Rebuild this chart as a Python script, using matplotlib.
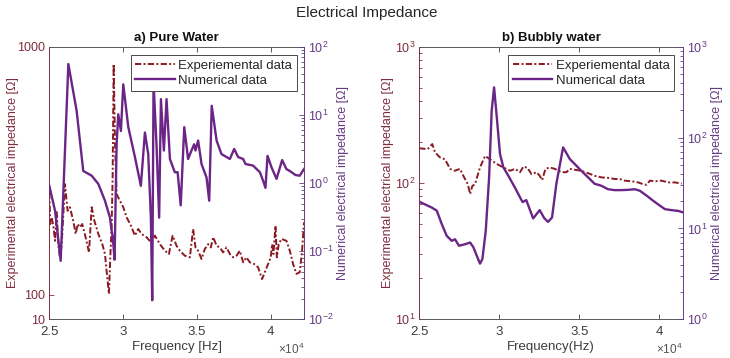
import matplotlib
matplotlib.use('Agg')
import matplotlib.pyplot as plt
from matplotlib.ticker import LogLocator, FixedLocator, NullFormatter, FixedFormatter

plt.rcParams['font.family'] = ['Liberation Sans', 'DejaVu Sans']
plt.rcParams['mathtext.fontset'] = 'custom'
plt.rcParams['mathtext.rm'] = 'Liberation Sans'
plt.rcParams['mathtext.it'] = 'Liberation Sans:italic'
plt.rcParams['mathtext.bf'] = 'Liberation Sans:bold'

# ---------------- data ----------------
# a) Pure water - experimental (left axis, linear)
pw_exp_f = [25000, 25070, 25160, 25270, 25390, 25500, 25610, 25720, 25840, 26060, 26240, 26400,
            26620, 26790, 26920, 27080, 27230, 27460, 27690, 27870, 28050, 28320, 28590, 28770,
            28900, 29040, 29130, 29220, 29290, 29360, 29450, 29560, 29720, 30010, 30240, 30530,
            30800, 31020, 31250, 31590, 31880, 32150, 32490, 32830, 33100, 33350, 33620, 33840,
            34180, 34520, 34740, 34900, 35080, 35310, 35530, 35760, 35940, 36100, 36330, 36550,
            36770, 37000, 37230, 37450, 37680, 37900, 38130, 38350, 38580, 38870, 39140, 39410,
            39640, 39820, 40000, 40090, 40180, 40320, 40410, 40540, 40720, 41060, 41290, 41510,
            41740, 41960, 42120, 42250]
pw_exp_v = [469, 356, 380, 350, 295, 399, 283, 235, 283, 501, 404, 417,
            368, 320, 356, 344, 356, 308, 253, 417, 368, 320, 283, 247,
            175, 102, 235, 344, 526, 937, 647, 465, 447, 417, 380, 350,
            314, 338, 320, 308, 290, 314, 283, 259, 247, 314, 277, 259,
            241, 235, 338, 271, 259, 229, 265, 283, 271, 308, 277, 271,
            253, 271, 247, 235, 241, 259, 217, 235, 217, 211, 199, 156,
            187, 211, 235, 283, 247, 350, 235, 283, 302, 295, 259, 211,
            175, 181, 259, 362]

# a) Pure water - numerical (right axis, log)
pw_num_f = [25000, 25390, 25770, 26290, 26850, 27300, 27870, 28320, 28770, 29110, 29220, 29300,
            29420, 29560, 29670, 29850, 30010, 30350, 30800, 31200, 31475, 31700, 31880, 31970,
            32060, 32260, 32440, 32560, 32760, 32940, 33170, 33500, 33690, 33900, 34140, 34400,
            34630, 34810, 34900, 35080, 35310, 35650, 35830, 36000, 36330, 36660, 37230, 37520,
            37790, 38130, 38290, 38800, 39260, 39480, 39640, 39780, 40050, 40390, 40770, 41060,
            41290, 41670, 41960, 42250]
pw_num_v = [0.91, 0.39, 0.072, 55.7, 11.5, 1.5, 1.28, 0.97, 0.55, 0.31, 0.2, 0.16,
            0.075, 3.7, 10.2, 5.8, 28, 6.6, 2.4, 0.91, 5.5, 2.66, 0.31, 0.019,
            30, 3.7, 0.31, 17, 3.0, 17, 2.25, 1.44, 1.44, 0.47, 6.6, 2.25,
            3.0, 3.7, 3.0, 4.2, 1.9, 1.2, 0.55, 13.6, 4.2, 2.66, 2.25, 3.16,
            2.4, 2.25, 1.9, 1.8, 1.44, 1.08, 0.85, 2.5, 1.7, 1.15, 2.17, 1.6,
            1.5, 1.31, 1.28, 1.6]

# b) Bubbly water - experimental (left axis, log)
bw_exp_f = [25000, 25520, 25810, 25980, 26290, 26610, 26920, 27230, 27540, 27750, 28030, 28170,
            28310, 28480, 28790, 29110, 29420, 29840, 30250, 30670, 30980, 31290, 31500, 31760,
            32010, 32320, 32520, 32670, 32880, 33150, 33460, 33880, 34190, 34400, 34710, 35120,
            35540, 35950, 36370, 36790, 37200, 37520, 37830, 38250, 38670, 38980, 39190, 39400,
            39710, 40130, 40540, 40960, 41380]
bw_exp_v = [180, 177, 193, 168, 154, 149, 127, 123, 127, 113, 98, 83,
            95, 98, 130, 158, 149, 138, 130, 123, 127, 120, 132, 129,
            116, 120, 113, 105, 127, 130, 127, 120, 120, 127, 125, 123,
            118, 113, 110, 109, 107, 107, 104, 103, 101, 98, 97, 104,
            103, 104, 101, 101, 99]

# b) Bubbly water - numerical (right axis, log)
bw_num_f = [25000, 25770, 26090, 26400, 26710, 27030, 27230, 27480, 27860, 28170, 28380, 28590,
            28790, 28940, 29150, 29360, 29520, 29670, 29840, 30040, 30250, 30560, 30980, 31290,
            31450, 31680, 32110, 32520, 32800, 33040, 33290, 33560, 33980, 34400, 34810, 35120,
            35540, 35950, 36370, 36790, 37200, 37620, 38040, 38460, 38770, 39190, 39600, 40030,
            40340, 40750, 41170, 41480]
bw_num_v = [19.7, 17, 15.7, 11.2, 8.3, 7.3, 7.6, 6.45, 6.7, 7.0, 6.2, 5.0,
            4.1, 4.6, 9.4, 36.5, 197, 357, 167, 66, 47, 38, 28, 22,
            19.5, 20.5, 12.9, 15.9, 13, 11.8, 13.2, 31, 78, 58, 49, 43,
            36.5, 31, 29.5, 27, 26.4, 26.4, 26.6, 27, 26, 23, 20.2, 17.8,
            16.3, 15.9, 15.6, 15]

x_ticks = [25000, 30000, 35000, 40000]
x_tick_labels = ['2.5', '3', '3.5', '4']
legend_labels = ['Experiemental data', 'Numerical data']

# ---------------- style ----------------
RED = '#8a1a22'
PURPLE = '#6b2586'
LCOL = '#7f2d3f'
RCOL = '#673a82'
GRAY = '#3c3c3c'
FS = 9.5
TFS = 9
W, H = 730.0, 358.0

fig = plt.figure(figsize=(7.3, 3.58), dpi=100)
fig.text(366.5 / W, 1 - 13 / H, 'Electrical Impedance', ha='center', va='center',
         fontsize=11, color='#262626')


def make_panel(px0, px1, xmax, title, f_exp, v_exp, f_num, v_num,
               left_log, left_lim, right_lim, xlabel, leg_x1,
               llab_x, rlab_x):
    top, bot = 46.7, 319.3
    ax1 = fig.add_axes([px0 / W, 1 - bot / H, (px1 - px0) / W, (bot - top) / H])
    ax2 = ax1.twinx()
    l1, = ax1.plot(f_exp, v_exp, color=RED, lw=1.4, linestyle=(0, (3.2, 1.2, 1.0, 1.2)))
    l2, = ax2.plot(f_num, v_num, color=PURPLE, lw=1.7)

    ax1.set_xlim(25000, xmax)
    ax1.xaxis.set_major_locator(FixedLocator(x_ticks))
    ax1.xaxis.set_major_formatter(FixedFormatter(x_tick_labels))
    ax1.tick_params(axis='x', which='both', direction='in', top=True, bottom=True,
                    length=3.5, width=0.6, colors=GRAY, labelsize=FS, pad=5)
    ax2.tick_params(axis='x', which='both', top=False, bottom=False, labelbottom=False)

    if left_log:
        ax1.set_yscale('log')
        ax1.set_ylim(*left_lim)
        ax1.yaxis.set_minor_locator(LogLocator(base=10, subs=range(2, 10)))
        ax1.yaxis.set_minor_formatter(NullFormatter())
    else:
        ax1.set_ylim(*left_lim)
        ax1.yaxis.set_major_locator(FixedLocator([10, 100, 1000]))
        ax1.yaxis.set_major_formatter(FixedFormatter(['10', '100', '1000']))
    ax1.tick_params(axis='y', which='both', direction='in', colors=LCOL, labelsize=TFS,
                    width=0.6, pad=3)
    ax1.tick_params(axis='y', which='major', length=3.5)
    ax1.tick_params(axis='y', which='minor', length=2)

    ax2.set_yscale('log')
    ax2.set_ylim(*right_lim)
    ax2.yaxis.set_minor_locator(LogLocator(base=10, subs=range(2, 10)))
    ax2.yaxis.set_minor_formatter(NullFormatter())
    ax2.tick_params(axis='y', which='both', direction='in', colors=RCOL, labelsize=TFS,
                    width=0.6, pad=3)
    ax2.tick_params(axis='y', which='major', length=3.5)
    ax2.tick_params(axis='y', which='minor', length=2)

    for s in ['top', 'bottom']:
        ax1.spines[s].set_color('#5a5a5a')
        ax1.spines[s].set_linewidth(0.7)
        ax2.spines[s].set_visible(False)
    ax1.spines['left'].set_color(LCOL)
    ax1.spines['left'].set_linewidth(0.7)
    ax1.spines['right'].set_visible(False)
    ax2.spines['left'].set_visible(False)
    ax2.spines['right'].set_color(RCOL)
    ax2.spines['right'].set_linewidth(0.7)

    w = px1 - px0
    ax1.set_ylabel('Experimental electrical impedance [\u03a9]', fontsize=9, color=LCOL)
    ax1.yaxis.set_label_coords((llab_x + 6 - px0) / w, 0.5)
    ax2.set_ylabel('Numerical electrical impedance [\u03a9]', fontsize=9, color=RCOL)
    ax2.yaxis.set_label_coords((rlab_x - 6 - px0) / w, 0.5)
    ax1.set_xlabel(xlabel, fontsize=FS, color=GRAY)
    ax1.xaxis.set_label_coords(0.5, (bot - 341) / (bot - top))
    ax1.set_title(title, fontsize=FS, fontweight='bold', color='#111111', pad=4)
    ax1.text(1.0, (bot - 349) / (bot - top), '\u00d710$^{4}$', transform=ax1.transAxes,
             ha='right', va='center', fontsize=8.5, color='#555555')

    leg = ax2.legend([l1, l2], legend_labels, loc='upper right',
                     bbox_to_anchor=((leg_x1 - px0) / w, (bot - 55) / (bot - top)),
                     borderaxespad=0, fancybox=False, edgecolor='#4a4a4a', framealpha=1,
                     fontsize=FS, handlelength=3.0, handletextpad=0.25, borderpad=0.35,
                     labelspacing=0.2)
    leg.get_frame().set_linewidth(0.7)
    for t in leg.get_texts():
        t.set_color('#262626')
    return ax1, ax2


make_panel(49.3, 304.0, 42250, 'a) Pure Water', pw_exp_f, pw_exp_v, pw_num_f, pw_num_v,
           False, (10, 1000), (0.01, 100), 'Frequency [Hz]', 296.7, 13.3, 343.0)
make_panel(419.3, 682.7, 41450, 'b) Bubbly water', bw_exp_f, bw_exp_v, bw_num_f, bw_num_v,
           True, (10, 1000), (1, 1000), 'Frequency(Hz)', 674.0, 388.5, 716.7)

fig.savefig('out.png', dpi=100)
